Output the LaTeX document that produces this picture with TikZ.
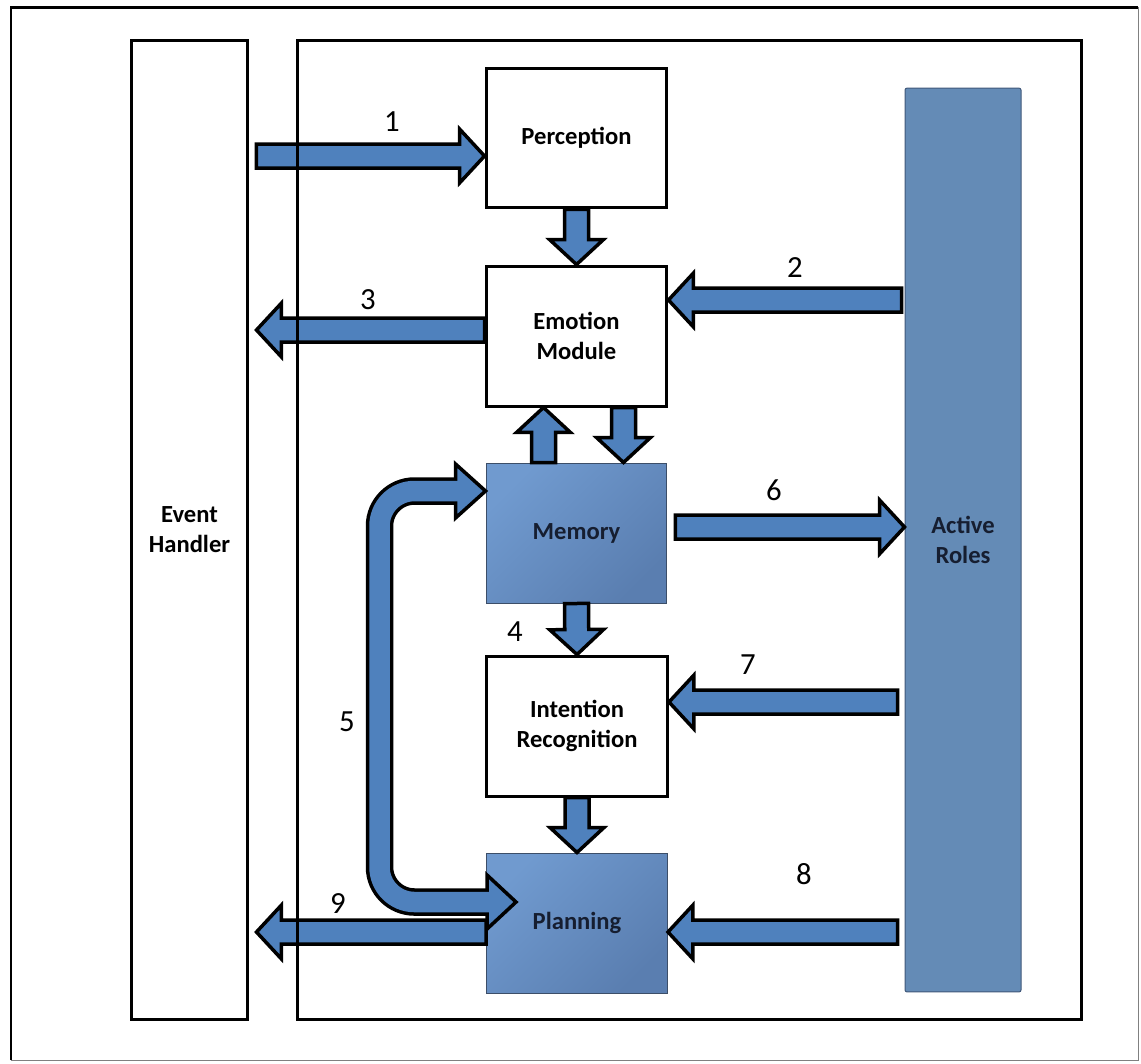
\documentclass[tikz,border=0pt]{standalone}
\usepackage{fontspec}
\setmainfont{Carlito}
\usetikzlibrary{calc}
\definecolor{arr-blue}{RGB}{79,129,189}
\definecolor{box-light}{RGB}{112,154,207}
\definecolor{box-dark}{RGB}{90,126,176}
\definecolor{box-edge}{RGB}{60,78,104}
\definecolor{box-text}{RGB}{22,30,48}
\definecolor{role-blue}{RGB}{100,139,182}
\definecolor{role-edge}{RGB}{64,88,122}

\tikzset{
	plainbox/.style={draw, line width=0.06cm, minimum width=3.62cm, minimum height=2.8cm,
		align=center, font=\fontsize{14}{17}\selectfont\bfseries},
	shadebox/.style={plainbox, draw=box-edge, line width=0.02cm, top color=box-light,
		bottom color=box-dark, shading angle=45, text=box-text},
	barrow/.style={fill=arr-blue, draw=black, line width=0.07cm, line join=miter},
	numlabel/.style={font=\fontsize{17.5}{20}\selectfont}
}

% block arrow from #1 (tail) to #2 (tip)
\newcommand{\blockarrow}[2]{%
	\path #1 coordinate (ba-t) #2 coordinate (ba-h);
	\path ($(ba-h)!0.5cm!(ba-t)$) coordinate (ba-b);
	\filldraw[barrow] ($(ba-t)!0.24cm!90:(ba-h)$) -- ($(ba-b)!0.24cm!90:(ba-h)$)
		-- ($(ba-b)!0.54cm!90:(ba-h)$) -- (ba-h) -- ($(ba-b)!0.54cm!-90:(ba-h)$)
		-- ($(ba-b)!0.24cm!-90:(ba-h)$) -- ($(ba-t)!0.24cm!-90:(ba-h)$) -- cycle;
}

\begin{document}
\begin{tikzpicture}[x=0.02cm, y=-0.02cm]
\useasboundingbox (0,0) rectangle (1141,1063);
% frame
\draw[line width=0.06cm] (11,1060) -- (11,7) -- (1138,7);
\draw[gray, line width=0.02cm] (1138,7) -- (1138,1060) -- (11,1060);

% side columns
\node[plainbox, minimum width=2.34cm, minimum height=19.6cm] (eh) at (189.5,530) {Event\\Handler};
\node[plainbox, draw=role-edge, line width=0.02cm, fill=role-blue, text=box-text, rounded corners=0.04cm,
	minimum width=2.32cm, minimum height=18.08cm] (roles) at (963,540) {Active\\Roles};

% modules
\node[plainbox] (perc) at (576.5,138) {Perception};
\node[plainbox] (emo) at (576.5,336) {Emotion\\Module};
\node[shadebox] (mem) at (576.5,533) {Memory};
\node[plainbox] (intent) at (577,726) {Intention\\Recognition};
\node[shadebox] (plan) at (577,923) {Planning};

% arrows
\blockarrow{($(eh.east |- perc.west)+(7,18)$)}{($(perc.west)+(0,18)$)}
\blockarrow{(perc.south)}{(emo.north)}
\blockarrow{($(roles.west |- emo.east)+(-3,-36)$)}{($(emo.east)+(0,-36)$)}
\blockarrow{($(emo.west)+(0,-6)$)}{($(eh.east |- emo.west)+(7,-6)$)}
\blockarrow{($(mem.north)+(-33,0)$)}{($(emo.south)+(-33,0)$)}
\blockarrow{($(emo.south)+(47,0)$)}{($(mem.north)+(47,0)$)}
\blockarrow{($(mem.east)+(8,-6)$)}{($(roles.west |- mem.east)+(0,-6)$)}
\blockarrow{(mem.south)}{(intent.north)}
\blockarrow{($(roles.west |- intent.east)+(-7,-24)$)}{($(intent.east)+(0,-24)$)}
\blockarrow{(intent.south)}{(plan.north)}
\blockarrow{($(roles.west |- plan.east)+(-7,9)$)}{($(plan.east)+(0,9)$)}
\blockarrow{($(plan.west)+(0,9)$)}{($(eh.east |- plan.west)+(7,9)$)}

% loop between memory and planning
\coordinate (m5) at ($(mem.west)+(0,-42)$);
\coordinate (p5) at ($(plan.west)+(30,-21)$);
\draw[line width=0.55cm, rounded corners=0.7cm] ($(m5)+(-30,0)$) -- ++(-76,0) |- ($(p5)+(-29,0)$);
\filldraw[barrow] (m5) -- ++(-30,-27) -- ++(0,54) -- cycle;
\filldraw[barrow] (p5) -- ++(-29,-27) -- ++(0,54) -- cycle;
\draw[arr-blue, line width=0.41cm, rounded corners=0.7cm] ($(m5)+(-27,0)$) -- ++(-79,0) |- ($(p5)+(-26,0)$);

% numbers
\foreach \n/\x/\y in {1/392/122, 2/795/268, 3/368/300, 4/515/632, 5/347/722,
	6/774/490, 7/748/665, 8/804/874, 9/338/903}
	\node[numlabel] (num\n) at (\x,\y) {\n};

% agent box
\node[draw, line width=0.06cm, minimum width=15.7cm, minimum height=19.6cm] (agent) at (689.5,530) {};
\end{tikzpicture}
\end{document}
